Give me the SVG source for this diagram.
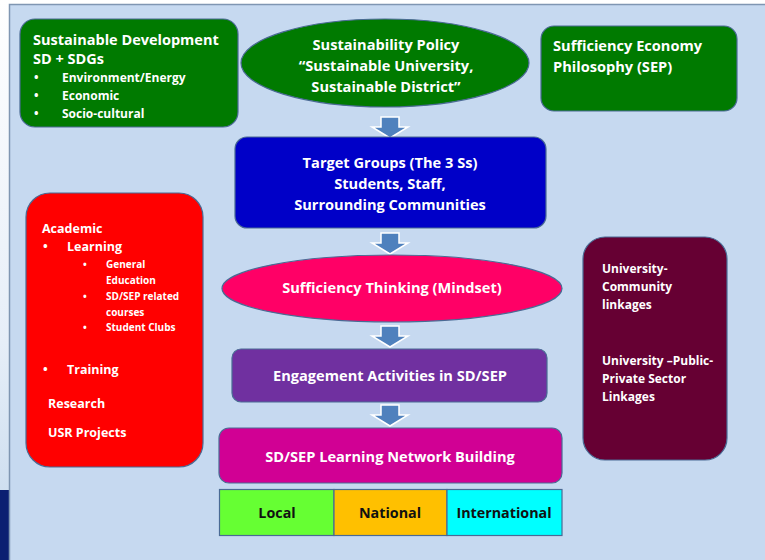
<svg xmlns="http://www.w3.org/2000/svg" width="765" height="560" viewBox="0 0 765 560">
<defs>
<style>
.t{font-family:"Open Sans","Liberation Sans",sans-serif;font-weight:bold;fill:#fff}
.k{font-family:"Open Sans","Liberation Sans",sans-serif;font-weight:bold;fill:#111}
.m{font-size:14.6px}
.bx{stroke:#4A6A94;stroke-width:1.2}
.ar{fill:#4F81BD;stroke:#fff;stroke-width:1.5}
</style>
<linearGradient id="side" x1="0" y1="0" x2="0" y2="1">
<stop offset="0" stop-color="#ffffff"/>
<stop offset="0.7" stop-color="#e6eef8"/>
<stop offset="1" stop-color="#cfdff0"/>
</linearGradient>
</defs>
<rect x="0" y="0" width="765" height="560" fill="#ffffff"/>
<rect x="0" y="0" width="10" height="490" fill="url(#side)"/>
<rect x="0" y="490" width="10" height="70" fill="#0C1F72"/>
<rect x="9.5" y="4.5" width="760" height="560" fill="#C6D9F0" stroke="#7F96B2" stroke-width="1.5"/>

<g id="connectors">
<path class="ar" d="M381,117 h18 v10 h9 l-18,11 l-18,-11 h9 z"/>
<path class="ar" d="M381,233 h18 v10 h9 l-18,11 l-18,-11 h9 z"/>
<path class="ar" d="M381,326 h18 v10 h9 l-18,11 l-18,-11 h9 z"/>
<path class="ar" d="M381,405 h18 v10 h9 l-18,11 l-18,-11 h9 z"/>
</g>

<g id="sd">
<rect class="bx" x="20" y="19" width="218" height="108" rx="15" fill="#007A00"/>
<text class="t" x="33" y="45" font-size="14.5">Sustainable Development</text>
<text class="t" x="33" y="64" font-size="14.5">SD + SDGs</text>
<g font-size="12">
<text class="t" x="34" y="82">•</text><text class="t" x="62" y="82">Environment/Energy</text>
<text class="t" x="34" y="100">•</text><text class="t" x="62" y="100">Economic</text>
<text class="t" x="34" y="118">•</text><text class="t" x="62" y="118">Socio-cultural</text>
</g>
</g>

<g id="policy">
<ellipse class="bx" cx="385" cy="63" rx="144" ry="44" fill="#007A00"/>
<text class="t m" x="386" y="50" text-anchor="middle">Sustainability Policy</text>
<text class="t m" x="386" y="71" text-anchor="middle">“Sustainable University,</text>
<text class="t m" x="386" y="92" text-anchor="middle">Sustainable District”</text>
</g>

<g id="sep">
<rect class="bx" x="541" y="26" width="196" height="85" rx="13" fill="#007A00"/>
<text class="t m" x="553" y="51">Sufficiency Economy</text>
<text class="t m" x="553" y="72">Philosophy (SEP)</text>
</g>

<g id="target">
<rect class="bx" x="235" y="137" width="311" height="91" rx="12" fill="#0000C8"/>
<text class="t m" x="390" y="168" text-anchor="middle">Target Groups (The 3 Ss)</text>
<text class="t m" x="390" y="189" text-anchor="middle">Students, Staff,</text>
<text class="t m" x="390" y="210" text-anchor="middle">Surrounding Communities</text>
</g>

<g id="mindset">
<ellipse class="bx" cx="392" cy="288.5" rx="170" ry="33.5" fill="#FF0066"/>
<text class="t m" x="392" y="293" text-anchor="middle">Sufficiency Thinking (Mindset)</text>
</g>

<g id="engage">
<rect class="bx" x="232" y="349" width="315" height="53" rx="9" fill="#7030A0"/>
<text class="t m" x="390" y="381" text-anchor="middle">Engagement Activities in SD/SEP</text>
</g>

<g id="network">
<rect class="bx" x="219" y="428" width="343" height="55" rx="10" fill="#D10094"/>
<text class="t m" x="390" y="462" text-anchor="middle">SD/SEP Learning Network Building</text>
</g>

<g id="local">
<rect class="bx" x="219.5" y="489.5" width="114.5" height="46" fill="#66FF33"/>
<text class="k" x="277" y="518" font-size="14.3" text-anchor="middle">Local</text>
</g>
<g id="national">
<rect class="bx" x="334" y="489.5" width="113" height="46" fill="#FFC000"/>
<text class="k" x="390" y="518" font-size="14.3" text-anchor="middle">National</text>
</g>
<g id="international">
<rect class="bx" x="447" y="489.5" width="115" height="46" fill="#00FFFF"/>
<text class="k" x="504" y="518" font-size="14.3" text-anchor="middle">International</text>
</g>

<g id="academic">
<rect class="bx" x="26" y="193" width="177" height="274" rx="24" fill="#FF0000"/>
<text class="t" x="42" y="233" font-size="12.5">Academic</text>
<text class="t" x="43" y="251" font-size="12.5">•</text><text class="t" x="67" y="251" font-size="12.5">Learning</text>
<g font-size="10">
<text class="t" x="83" y="268">•</text><text class="t" x="106" y="268">General</text>
<text class="t" x="106" y="284">Education</text>
<text class="t" x="83" y="300">•</text><text class="t" x="106" y="300">SD/SEP related</text>
<text class="t" x="106" y="316">courses</text>
<text class="t" x="83" y="331">•</text><text class="t" x="106" y="331">Student Clubs</text>
</g>
<text class="t" x="43" y="374" font-size="12.5">•</text><text class="t" x="67" y="374" font-size="12.5">Training</text>
<text class="t" x="48" y="408" font-size="12.5">Research</text>
<text class="t" x="48" y="437" font-size="12.5">USR Projects</text>
</g>

<g id="linkages">
<rect class="bx" x="583" y="237" width="144" height="223" rx="22" fill="#660033"/>
<g font-size="12">
<text class="t" x="602" y="273">University-</text>
<text class="t" x="602" y="291">Community</text>
<text class="t" x="602" y="309">linkages</text>
<text class="t" x="602" y="365">University –Public-</text>
<text class="t" x="602" y="383">Private Sector</text>
<text class="t" x="602" y="401">Linkages</text>
</g>
</g>
</svg>
